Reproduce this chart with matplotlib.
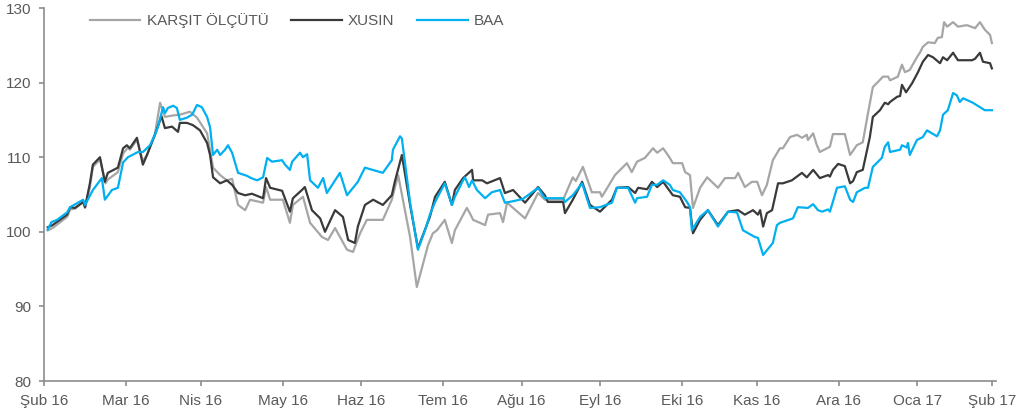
import numpy as np
import matplotlib
matplotlib.use("Agg")
from matplotlib import pyplot as plt

plt.rcParams["font.family"] = ["Liberation Sans", "DejaVu Sans"]

# x = trading-day index (0 = Şub 16, 254 = Şub 17)
tickPos = [0, 22, 42, 64, 85, 107, 128, 149, 171, 191, 213, 234, 254]
tickLabels = ["Şub 16", "Mar 16", "Nis 16", "May 16", "Haz 16", "Tem 16", "Ağu 16",
              "Eyl 16", "Eki 16", "Kas 16", "Ara 16", "Oca 17", "Şub 17"]

baaX = [1, 2, 3.5, 6.2, 7, 10.5, 11, 13.1, 15.5, 16.3, 18.2, 19.8, 21.2, 22.5, 25.2, 26.5,
        28.4, 29.7, 30.5, 31.9, 32.4, 33.2, 34.6, 35.6, 36.4, 38.3, 39.7, 41, 42.3, 43.7,
        44.5, 45.3, 46.4, 47.2, 48.5, 49.3, 50.4, 52, 54.4, 55.5, 57.1, 58.7, 59.8, 61.1,
        63.8, 64.6, 65.9, 66.5, 68.6, 69.4, 70.5, 71.3, 73.4, 74.8, 75.8, 79.3, 81.2, 84.1,
        86, 90.8, 93.2, 93.5, 95.4, 95.9, 98.1, 100.2, 102.1, 103.4, 104.8, 107.4, 109.3,
        110.1, 112.3, 112.8, 113.9, 114.7, 116, 118.2, 120, 122.2, 123.5, 125.7, 128.3,
        132.4, 134.2, 139.1, 139.6, 141.7, 144.2, 146.3, 149, 152.2, 153.5, 156.5, 158.4,
        158.9, 161.6, 162.9, 164.3, 165.9, 167.7, 168.5, 170.4, 172.3, 173.1, 173.6, 175.8,
        177.9, 180.6, 183.3, 185.7, 187.3, 190.5, 191.3, 192.7, 195.3, 196.4, 197.2, 200.7,
        202, 204.7, 206.1, 207.4, 208.5, 210.1, 210.6, 212.5, 214.6, 216, 216.8, 217.8, 220,
        220.8, 222.1, 224.5, 225.3, 226.2, 226.7, 229.4, 229.9, 231.2, 231.5, 232, 233.9,
        235.5, 236.6, 239.3, 240.1, 240.9, 242.2, 243.6, 244.6, 245.4, 246.3, 248.9, 250.8,
        252.1, 254]
baaY = [100.3, 101.3, 101.6, 102.6, 103.3, 104.3, 103.6, 105.6, 107.2, 104.3, 105.6, 105.9,
        109.3, 110, 110.7, 110.7, 111.6, 113, 114, 116.7, 115.9, 116.6, 116.9, 116.6, 115,
        115.3, 115.7, 117, 116.7, 115.4, 114, 110.3, 111, 110.3, 111, 111.6, 110.6, 107.9,
        107.5, 107.2, 106.9, 107.3, 109.9, 109.4, 109.6, 109, 108.3, 109.4, 110.6, 110, 110.4,
        106.9, 105.9, 107.2, 105.2, 107.9, 104.9, 106.7, 108.6, 107.9, 109.6, 111, 112.8,
        112.5, 103.9, 97.6, 100.2, 102.3, 104, 106.5, 103.6, 104.7, 106.9, 107.3, 106, 106.9,
        105.6, 104.5, 105.3, 105.6, 103.9, 104.1, 104.4, 105.9, 104.5, 104.5, 104, 104.9,
        106.5, 103.2, 103.3, 103.9, 105.9, 105.9, 103.9, 104.5, 104.7, 106.3, 106.3, 106.9,
        106.3, 105.6, 105.3, 104, 103.3, 100.2, 102, 102.9, 100.7, 102.7, 102.6, 100.2, 99.3,
        99.2, 96.9, 98.5, 100.9, 101.2, 101.8, 103.3, 103.2, 103.7, 102.9, 102.7, 103, 102.7,
        105.9, 106.1, 104.3, 104, 105.3, 105.9, 105.9, 108.7, 109.9, 111.4, 112, 110.7, 111,
        111.6, 111.3, 111.9, 110.3, 112.3, 112.7, 113.6, 112.8, 113.6, 115.7, 116.3, 118.6,
        118.3, 117.4, 117.9, 117.3, 116.7, 116.3, 116.3]

xusinX = [1, 2.3, 6.2, 7, 8.3, 10.5, 11, 12.3, 13.1, 15, 16.3, 17.1, 19.8, 21.2, 22.2, 23,
          24.9, 26.5, 27.6, 29.7, 31.5, 32.4, 34.3, 35.9, 36.4, 38.3, 39.9, 41.8, 43.7, 44.5,
          45.3, 47.2, 49, 50.4, 52, 53.9, 55.7, 58.7, 59.5, 60.6, 63.8, 65.9, 66.7, 69.1,
          69.9, 71.8, 74, 75.3, 78, 80.1, 81.5, 83.3, 84.1, 86, 88.2, 90.8, 93.2, 94, 95.9,
          98.1, 100.2, 103.4, 104.8, 107.4, 109.3, 110.1, 112.3, 114.7, 115, 117.4, 118.7,
          122.2, 123.5, 125.7, 128.9, 132.4, 134.2, 135, 139.1, 139.6, 141.7, 144.2, 146.3,
          149, 152.2, 153.5, 156.5, 158.4, 159.2, 161.6, 162.9, 164.3, 165.9, 168.5, 170.4,
          171.8, 173.1, 173.9, 175.8, 177.9, 180.6, 183.3, 186, 187.8, 190, 191.3, 191.9,
          192.7, 193.7, 195.1, 196.7, 198, 200.4, 203.1, 204.4, 206.1, 207.9, 210.1, 210.6,
          211.4, 212.8, 214.6, 216, 216.8, 217.8, 219.4, 221.3, 222.1, 224, 225.3, 226.2,
          226.7, 228.6, 229.4, 229.9, 231, 232.6, 234.2, 235.5, 236.9, 238.2, 240.1, 240.9,
          242, 243.6, 244.9, 248.7, 249.5, 250.8, 251.6, 253.5, 254]
xusinY = [100.6, 100.9, 102.3, 103.3, 103.2, 104, 103.3, 106.5, 109, 110, 106.7, 107.9,
          108.6, 111.2, 111.6, 111.2, 112.6, 109, 110.3, 113, 115.5, 113.9, 114.1, 113.4,
          114.6, 114.6, 114.3, 113.6, 111.9, 110.3, 107.3, 106.5, 106.9, 106.3, 105.2, 104.9,
          105.1, 104.5, 107.2, 105.9, 105.5, 102.7, 104.5, 105.6, 106, 102.9, 101.8, 100,
          102.9, 102, 98.9, 98.5, 100.7, 103.6, 104.3, 103.6, 104.9, 106.7, 110.3, 103.6,
          97.8, 102, 104.7, 106.7, 103.6, 105.6, 107.2, 108.3, 106.9, 106.9, 106.5, 107.2,
          105.2, 105.6, 103.9, 106, 104.9, 104, 104, 102.5, 104.3, 106.7, 103.6, 102.7, 104.3,
          105.9, 106, 105.2, 105.9, 105.7, 106.7, 106, 106.7, 104.9, 104.7, 103.3, 103.2, 99.8,
          101.6, 102.9, 100.9, 102.7, 102.9, 102.3, 102.9, 102.3, 102.9, 100.7, 102.5, 102.9,
          106.5, 106.5, 106.9, 107.9, 107.3, 108.3, 107.2, 107.6, 107.4, 108.3, 109.1, 108.8,
          106.5, 106.8, 108, 108.3, 112.7, 115.4, 116.3, 117.3, 117.1, 117.4, 118.1, 118.2,
          119.7, 118.7, 119.9, 121.4, 122.8, 123.7, 123.4, 122.6, 123.4, 123, 124, 123, 123,
          123.2, 124, 122.8, 122.6, 121.9]

karsitX = [1, 2.3, 6.2, 7, 8.3, 10.5, 11, 12.3, 13.1, 15, 16.5, 17.1, 19.8, 21.2, 22.5, 23,
           24.9, 26.5, 27.6, 29.7, 31.1, 32.4, 34.6, 36.4, 39.1, 41, 43.7, 45.3, 47.2, 49,
           50.4, 52, 53.9, 55.2, 58.7, 59.5, 60.6, 64, 65.9, 66.7, 69.4, 71.3, 74.5, 76.1, 78,
           81.2, 82.8, 84.7, 86.5, 90.8, 93.2, 94.9, 98.1, 99.9, 102.9, 104.2, 105.3, 107.4,
           109.3, 110.1, 113.3, 114.1, 115, 118.2, 119, 122.2, 123, 124.1, 128.9, 132.4,
           134.2, 139.1, 141.7, 142.5, 144.4, 146.8, 149, 149.5, 152.5, 153, 156.2, 157.5,
           158.9, 161, 163.2, 164.3, 165.9, 167.7, 168.5, 171, 171.8, 173.1, 173.9, 175.8,
           177.7, 180.6, 182.5, 185.2, 186, 187.8, 189.7, 191.1, 192.4, 193.7, 195.3, 197.2,
           198, 199.9, 201.8, 203.1, 204.4, 204.7, 206.1, 207.1, 207.9, 210.6, 211.4, 214.6,
           216, 217.8, 219.4, 220.8, 222.1, 223.5, 224.8, 226.2, 226.7, 228.8, 229.9, 230.7,
           232, 233.9, 234.7, 235.5, 236.9, 238.7, 239.5, 240.6, 241.2, 242, 243.6, 244.9,
           247.3, 249.5, 250.8, 252.1, 253.5, 254]
karsitY = [100.2, 100.5, 102, 103, 103.1, 104, 103.2, 106, 108.7, 109.7, 106.5, 107, 108,
           110.5, 111.3, 111, 112.3, 109.5, 110.3, 113, 117.3, 115.4, 115.6, 115.7, 116.1,
           115.3, 113.2, 108.6, 107.6, 106.9, 107.1, 103.6, 102.9, 104.3, 103.9, 106, 104.3,
           104.3, 101.2, 103.6, 104.7, 101.2, 99.3, 98.9, 100.5, 97.6, 97.3, 99.8, 101.6,
           101.6, 104.3, 107.6, 99.3, 92.6, 98.2, 99.8, 100.2, 101.6, 98.5, 100.2, 103.2,
           102.5, 101.6, 100.9, 102.3, 102.5, 101.3, 103.9, 101.8, 105.2, 104.3, 104.3, 107.3,
           106.8, 108.7, 105.3, 105.3, 104.7, 107.2, 107.6, 109.2, 108, 109.4, 109.9, 111.2,
           110.6, 111.2, 109.9, 109.2, 109.2, 108, 107.6, 103.2, 105.9, 107.3, 105.9, 107.2,
           107.2, 107.9, 106, 106.7, 106.7, 104.9, 106.3, 109.6, 111.2, 111.2, 112.7, 113,
           112.6, 113, 112.3, 113.2, 111.6, 110.7, 111.4, 113.1, 113.1, 110.3, 111.6, 112,
           115.9, 119.4, 120.1, 120.8, 120.8, 120.3, 120.8, 122.4, 121.4, 121.7, 123.4, 124,
           124.8, 125.4, 125.3, 126, 126.1, 128.1, 127.5, 128.1, 127.5, 127.7, 127.3, 128.1,
           127.1, 126.4, 125.3]

fig = plt.figure(figsize=(10.17, 4.17), dpi=100)
ax = fig.add_axes([44 / 1017, 1 - 381 / 417, (996 - 44) / 1017, (381 - 8) / 417])

ax.plot(karsitX, karsitY, color="#A6A6A6", lw=1.6, label="KARŞIT ÖLÇÜTÜ")
ax.plot(xusinX, xusinY, color="#3A3A3A", lw=1.6, label="XUSIN")
ax.plot(baaX, baaY, color="#00B0F0", lw=1.6, label="BAA")

ax.set_xlim(0, 255.1)
ax.set_ylim(80, 130)
ax.set_yticks(np.arange(80, 131, 10))
ax.set_xticks(tickPos)
ax.set_xticklabels(tickLabels)

for side in ["top", "right"]:
    ax.spines[side].set_visible(False)
for side in ["left", "bottom"]:
    ax.spines[side].set_color("#8C8C8C")
    ax.spines[side].set_linewidth(1.2)

ax.tick_params(axis="both", colors="#8C8C8C", labelcolor="#595959", labelsize=11,
               length=3.5, width=1.2, direction="out")
ax.tick_params(axis="y", pad=5.5)
ax.tick_params(axis="x", pad=6)

fig.legend(loc="center left", bbox_to_anchor=(90 / 1017, 1 - 21 / 417), ncol=3,
           frameon=False, fontsize=11, handlelength=3.3, handletextpad=0.4,
           columnspacing=1.5, borderaxespad=0, borderpad=0, labelcolor="#595959")

fig.savefig("out.png", dpi=100)
